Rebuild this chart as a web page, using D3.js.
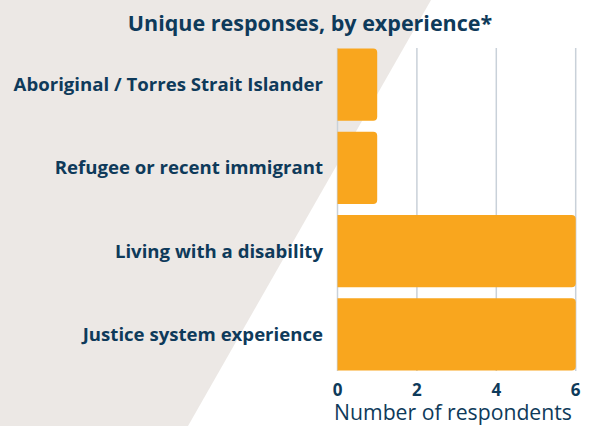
<!DOCTYPE html>
<html>
<head>
<meta charset="utf-8">
<script src="https://cdn.jsdelivr.net/npm/d3@7"></script>
<style>
  body { margin: 0; background: #fff; }
  svg { display: block; font-family: "Open Sans", "Noto Sans", sans-serif; }
</style>
</head>
<body>
<div id="chart"></div>
<script>
var categories = ["Aboriginal / Torres Strait Islander", "Refugee or recent immigrant", "Living with a disability", "Justice system experience"];
var values = [1, 1, 6, 6];
var xTicks = [0, 2, 4, 6];
var title = "Unique responses, by experience*";
var xTitle = "Number of respondents";

var width = 591, height = 426;
var ink = "#0e3a5a";

var svg = d3.select("#chart").append("svg")
    .attr("width", width)
    .attr("height", height);

// diagonal background panel
svg.append("path")
    .attr("d", "M0,0L431,0L188," + height + "L0," + height + "Z")
    .attr("fill", "#ece8e5");

var x = d3.scaleLinear().domain([0, 6]).range([337.5, 575.7]);
var y = d3.scaleBand().domain(categories).range([43, 376])
    .paddingInner(0.13).paddingOuter(0.065);

// grid
svg.append("g").selectAll("line")
    .data(xTicks)
    .enter().append("line")
    .attr("x1", function (d) { return x(d); })
    .attr("x2", function (d) { return x(d); })
    .attr("y1", 48)
    .attr("y2", 371)
    .attr("stroke", "#c9d1d9")
    .attr("stroke-width", 1.5);

// bars, rounded on the right end only
var r = 4;
svg.append("g").selectAll("path")
    .data(values)
    .enter().append("path")
    .attr("fill", "#f9a61e")
    .attr("d", function (d, i) {
        var x0 = x(0), x1 = x(d), y0 = y(categories[i]), h = y.bandwidth();
        return "M" + x0 + "," + y0 + "H" + (x1 - r) + "Q" + x1 + "," + y0 + " " + x1 + "," + (y0 + r) +
            "V" + (y0 + h - r) + "Q" + x1 + "," + (y0 + h) + " " + (x1 - r) + "," + (y0 + h) + "H" + x0 + "Z";
    });

// category labels
svg.append("g").selectAll("text")
    .data(categories)
    .enter().append("text")
    .attr("x", 323)
    .attr("y", function (d) { return y(d) + y.bandwidth() / 2; })
    .attr("dy", "0.35em")
    .attr("text-anchor", "end")
    .attr("font-size", 18.6)
    .attr("font-weight", 700)
    .attr("fill", ink)
    .text(function (d) { return d; });

// x tick labels
svg.append("g").selectAll("text")
    .data(xTicks)
    .enter().append("text")
    .attr("x", function (d) { return x(d); })
    .attr("y", 396)
    .attr("text-anchor", "middle")
    .attr("font-size", 17)
    .attr("font-weight", 700)
    .attr("fill", ink)
    .text(function (d) { return d; });

svg.append("text")
    .attr("x", 453)
    .attr("y", 420)
    .attr("text-anchor", "middle")
    .attr("font-size", 21.2)
    .attr("fill", ink)
    .text(xTitle);

svg.append("text")
    .attr("x", 310)
    .attr("y", 31)
    .attr("text-anchor", "middle")
    .attr("font-size", 21.5)
    .attr("font-weight", 700)
    .attr("fill", ink)
    .text(title);
</script>
</body>
</html>
